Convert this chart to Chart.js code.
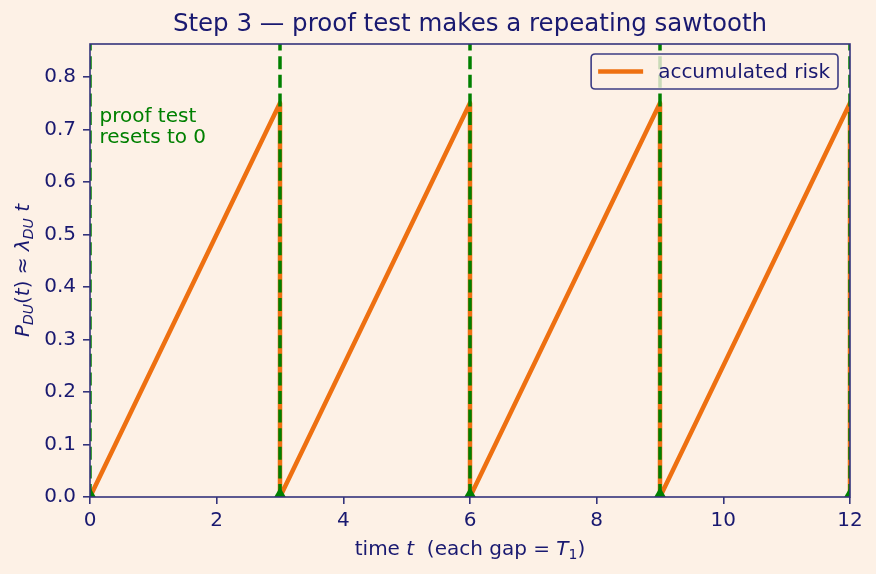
<!DOCTYPE html>
<html>
<head>
<meta charset="utf-8">
<script src="https://cdn.jsdelivr.net/npm/chart.js@4.4.0/dist/chart.umd.min.js"></script>
<style>
  html, body { margin: 0; padding: 0; background: #fdf1e6; }
</style>
</head>
<body>
<canvas id="sawChart" width="876" height="574"></canvas>
<script>
// SAWTOOTH: risk climbs during each interval, proof test drops it back to 0

var sawTimes = [0, 3, 3, 6, 6, 9, 9, 12, 12];
var sawRisk = [0, 0.75, 0, 0.75, 0, 0.75, 0, 0.75, 0];
var proofTests = [0, 3, 6, 9, 12];
var xTicks = [0, 2, 4, 6, 8, 10, 12];
var yTicks = [0, 0.1, 0.2, 0.3, 0.4, 0.5, 0.6, 0.7, 0.8];
var yTop = 0.8625;

var NAVY = "#191970";
var ORANGE = "#ee7011";
var GREEN = "#008000";
var BG = "#fdf1e6";
var FONT = "'DejaVu Sans', sans-serif";

var sawPoints = sawTimes.map(function (t, i) { return {x: t, y: sawRisk[i]}; });

// one dashed line per proof test, split by gaps
var testLines = [];
proofTests.forEach(function (t) {
  testLines.push({x: t, y: 0}, {x: t, y: yTop}, {x: t, y: null});
});
var testMarks = proofTests.map(function (t) { return {x: t, y: 0}; });

// draws text with italic / subscript pieces, centred on (cx, cy baseline)
function mathText(ctx, parts, cx, cy, size) {
  function fontOf(p) {
    var s = p[1].indexOf("s") >= 0 ? size * 0.7 : size;
    var it = p[1].indexOf("i") >= 0 ? "italic " : "";
    return it + s + "px " + FONT;
  }
  var total = 0;
  parts.forEach(function (p) { ctx.font = fontOf(p); total += ctx.measureText(p[0]).width; });
  var x = cx - total / 2;
  ctx.textAlign = "left";
  ctx.textBaseline = "alphabetic";
  parts.forEach(function (p) {
    ctx.font = fontOf(p);
    var dy = p[1].indexOf("s") >= 0 ? size * 0.22 : 0;
    ctx.fillText(p[0], x, cy + dy);
    x += ctx.measureText(p[0]).width;
  });
}

var decorations = {
  id: "decorations",
  beforeDraw: function (chart) {
    var ctx = chart.ctx;
    ctx.save();
    ctx.fillStyle = BG;
    ctx.fillRect(0, 0, chart.width, chart.height);
    ctx.restore();
  },
  afterDatasetsDraw: function (chart) {
    var ctx = chart.ctx;
    var a = chart.chartArea;
    var xs = chart.scales.x, ys = chart.scales.y;
    ctx.save();

    // frame
    ctx.strokeStyle = "#34347c";
    ctx.lineWidth = 1.6;
    ctx.strokeRect(a.left, a.top, a.right - a.left, a.bottom - a.top);

    // annotation
    ctx.fillStyle = GREEN;
    ctx.font = "20px " + FONT;
    ctx.textAlign = "left";
    ctx.textBaseline = "alphabetic";
    var ax = xs.getPixelForValue(0.15), ay = ys.getPixelForValue(0.714);
    ctx.fillText("proof test", ax, ay);
    ctx.fillText("resets to 0", ax, ay + 21);

    // legend
    var label = chart.data.datasets[0].label;
    ctx.font = "20px " + FONT;
    var tw = ctx.measureText(label).width;
    var bw = 7 + 45 + 15 + tw + 8, bh = 35;
    var bx = a.right - 12 - bw, by = a.top + 10, r = 4;
    ctx.beginPath();
    ctx.moveTo(bx + r, by);
    ctx.lineTo(bx + bw - r, by);
    ctx.quadraticCurveTo(bx + bw, by, bx + bw, by + r);
    ctx.lineTo(bx + bw, by + bh - r);
    ctx.quadraticCurveTo(bx + bw, by + bh, bx + bw - r, by + bh);
    ctx.lineTo(bx + r, by + bh);
    ctx.quadraticCurveTo(bx, by + bh, bx, by + bh - r);
    ctx.lineTo(bx, by + r);
    ctx.quadraticCurveTo(bx, by, bx + r, by);
    ctx.closePath();
    ctx.fillStyle = "rgba(253,241,230,0.8)";
    ctx.fill();
    ctx.strokeStyle = "#3c3c84";
    ctx.lineWidth = 1.6;
    ctx.stroke();
    ctx.beginPath();
    ctx.moveTo(bx + 7, by + bh / 2);
    ctx.lineTo(bx + 52, by + bh / 2);
    ctx.strokeStyle = ORANGE;
    ctx.lineWidth = 4.5;
    ctx.stroke();
    ctx.fillStyle = NAVY;
    ctx.textBaseline = "middle";
    ctx.fillText(label, bx + 67, by + bh / 2 + 1);

    // title
    ctx.font = "24.5px " + FONT;
    ctx.textAlign = "center";
    ctx.textBaseline = "middle";
    ctx.fillText("Step 3 \u2014 proof test makes a repeating sawtooth", (a.left + a.right) / 2, 25);

    // x axis title
    mathText(ctx, [["time ", ""], ["t", "i"], ["  (each gap = ", ""], ["T", "i"], ["1", "s"], [")", ""]],
      (a.left + a.right) / 2, 555, 20);

    // y axis title
    ctx.translate(29, (a.top + a.bottom) / 2);
    ctx.rotate(-Math.PI / 2);
    mathText(ctx, [["P", "i"], ["DU", "si"], ["(", ""], ["t", "i"], [")", ""], [" \u2248 ", ""],
      ["\u03bb", "i"], ["DU", "si"], [" ", ""], ["t", "i"]], 0, 0, 20);

    ctx.restore();
  }
};

new Chart("sawChart", {
  type: "scatter",
  data: {
    datasets: [{
      label: "accumulated risk",
      data: sawPoints,
      showLine: true,
      borderColor: ORANGE,
      borderWidth: 4.5,
      borderJoinStyle: "round",
      pointRadius: 0,
      clip: 0,
      order: 3
    }, {
      label: "proof test",
      data: testLines,
      showLine: true,
      spanGaps: false,
      borderColor: GREEN,
      borderWidth: 3.5,
      borderDash: [13, 5.6],
      pointRadius: 0,
      clip: 0,
      order: 2
    }, {
      label: "test marks",
      data: testMarks,
      showLine: false,
      pointStyle: "triangle",
      pointRadius: 10,
      backgroundColor: GREEN,
      borderColor: GREEN,
      borderWidth: 0,
      clip: 0,
      order: 1
    }]
  },
  options: {
    responsive: false,
    animation: false,
    devicePixelRatio: 1,
    layout: {padding: {top: 44, right: 26, left: 0, bottom: 0}},
    plugins: {
      legend: {display: false},
      title: {display: false},
      tooltip: {enabled: false}
    },
    scales: {
      x: {
        type: "linear",
        min: 0,
        max: 12,
        afterBuildTicks: function (s) { s.ticks = xTicks.map(function (v) { return {value: v}; }); },
        afterFit: function (s) { s.height = 77; },
        border: {display: false},
        grid: {drawOnChartArea: false, drawTicks: true, tickLength: 7, color: "#34347c", lineWidth: 1.6},
        ticks: {color: NAVY, padding: 5, font: {family: FONT, size: 20}, maxRotation: 0,
          callback: function (v) { return String(v); }}
      },
      y: {
        type: "linear",
        min: 0,
        max: yTop,
        afterBuildTicks: function (s) { s.ticks = yTicks.map(function (v) { return {value: v}; }); },
        afterFit: function (s) { s.width = 90; },
        border: {display: false},
        grid: {drawOnChartArea: false, drawTicks: true, tickLength: 7, color: "#34347c", lineWidth: 1.6},
        ticks: {color: NAVY, padding: 7, font: {family: FONT, size: 20},
          callback: function (v) { return v.toFixed(1); }}
      }
    }
  },
  plugins: [decorations]
});
</script>
</body>
</html>
